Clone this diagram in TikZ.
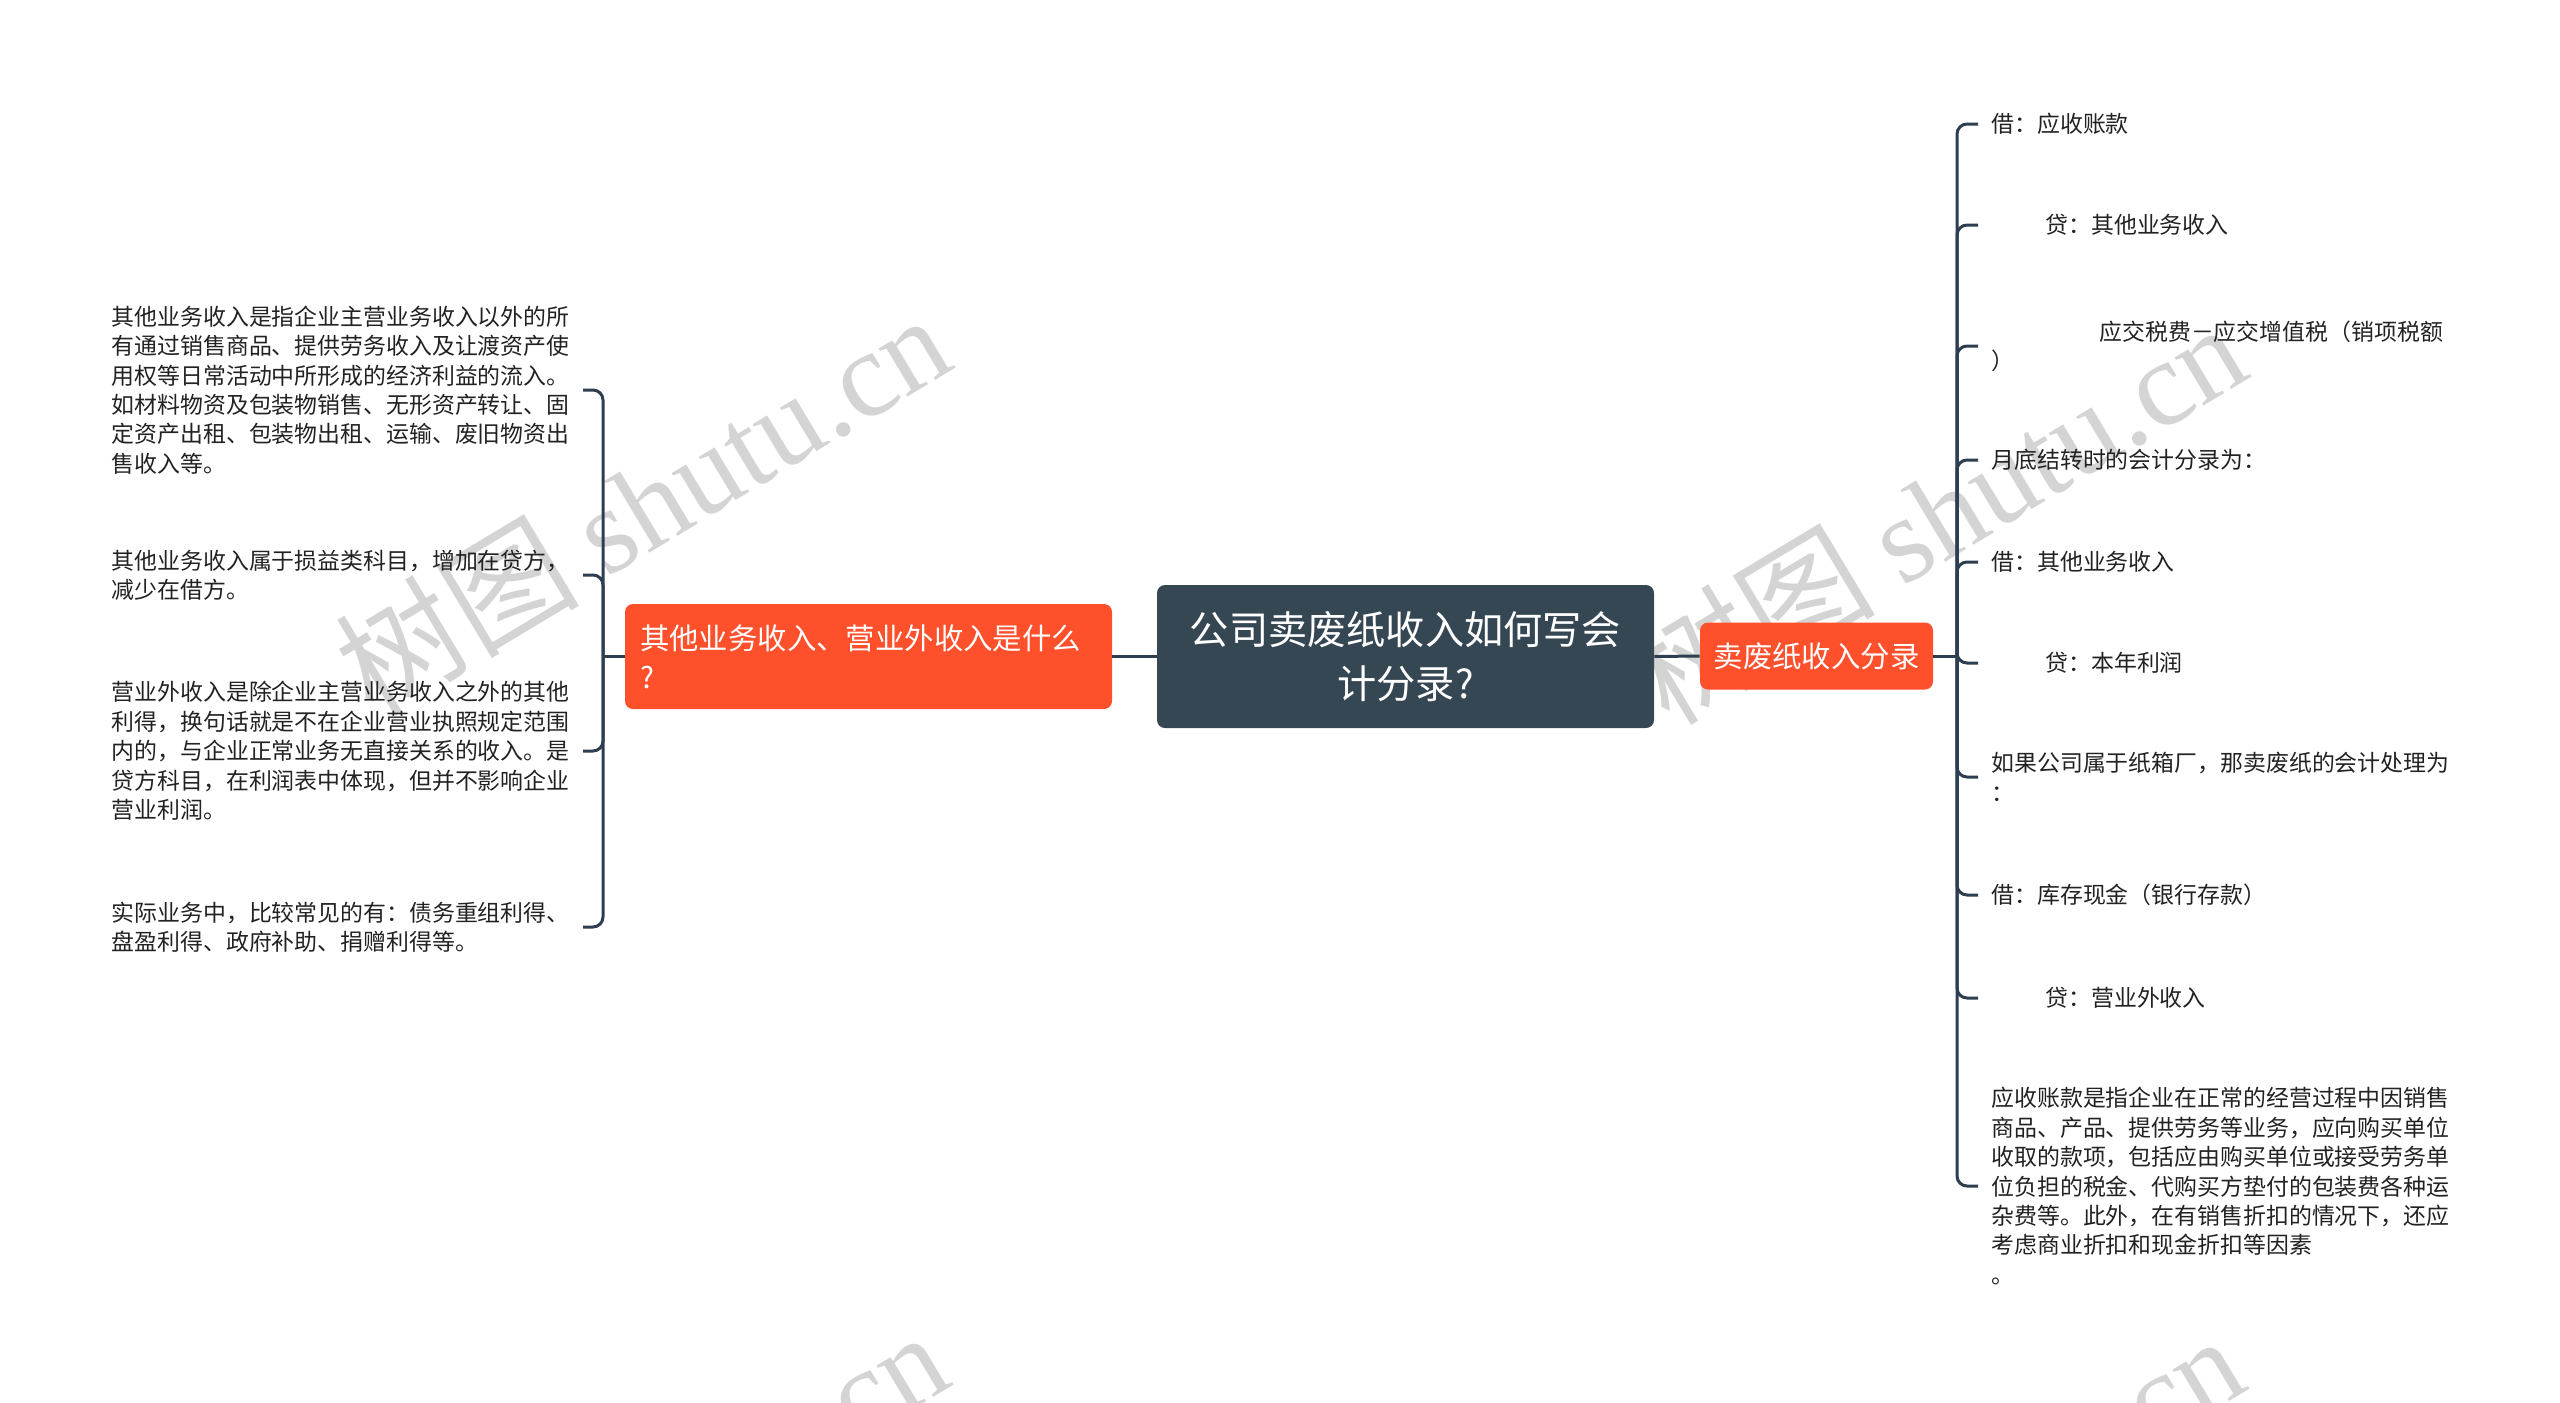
\documentclass[tikz,border=0pt]{standalone}
\usepackage{fontspec}
\setmainfont{Noto Sans CJK SC}
\newfontfamily\wmlatin{Liberation Serif}
\usetikzlibrary{positioning}

\definecolor{rootfill}{RGB}{54,71,84}
\definecolor{topicfill}{RGB}{255,80,44}
\definecolor{linkcol}{RGB}{44,62,80}
\definecolor{leafcol}{RGB}{34,34,34}
\definecolor{wmgray}{RGB}{212,212,212}

\tikzset{
  rootnode/.style={fill=rootfill, rounded corners=4pt, text=white, align=center,
    minimum width=248.5pt, minimum height=71.5pt, inner sep=0pt,
    font=\fontsize{19.6pt}{27pt}\selectfont},
  topicnode/.style={fill=topicfill, rounded corners=4pt, text=white,
    inner sep=0pt, font=\fontsize{14.7pt}{19.6pt}\selectfont},
  leafnode/.style={text=leafcol, align=left, inner xsep=6.5pt, inner ysep=2pt,
    font=\fontsize{11.45pt}{14.7pt}\selectfont},
  link/.style={draw=linkcol, line width=1.5pt},
  hook/.style={link, rounded corners=5pt},
  wmark/.style={text=wmgray, rotate=31, inner sep=0pt,
    font=\fontsize{61pt}{61pt}\selectfont}
}

\begin{document}
\begin{tikzpicture}[x=0.5pt,y=0.5pt,yscale=-1,xscale=1]
\useasboundingbox (0,0) rectangle (2560,1403);

%Watermarks
\begin{scope}
\clip (0,0) rectangle (2560,1403);
\node[wmark] (wm1) at (642,503) {树图 {\wmlatin shutu.cn}};
\node[wmark] (wm2) at (1938,512) {树图 {\wmlatin shutu.cn}};
\node[wmark] (wm3) at (640,1520) {树图 {\wmlatin shutu.cn}};
\node[wmark] (wm4) at (1936,1524) {树图 {\wmlatin shutu.cn}};
\end{scope}

% Root
\node[rootnode] (root) at (1405.5,656.5) {公司卖废纸收入如何写会\\计分录?};
% Topic left
\node[topicnode, align=left, text width=228.5pt, inner xsep=7.5pt, minimum height=52.5pt] (lmain) at (868.5,656.5) {其他业务收入、营业外收入是什么\\?};
% Topic right
\node[topicnode, align=center, minimum width=116.5pt, minimum height=33.5pt] (rmain) at (1816.5,656) {卖废纸收入分录};

%Straight Lines
\draw[link] (root.west) -- (lmain.east);
\draw[link] (root.east) -- (rmain.west);

% Text Node
\node[leafnode, anchor=east] (l1) at (583,390) {其他业务收入是指企业主营业务收入以外的所\\有通过销售商品、提供劳务收入及让渡资产使\\用权等日常活动中所形成的经济利益的流入。\\如材料物资及包装物销售、无形资产转让、固\\定资产出租、包装物出租、运输、废旧物资出\\售收入等。};
% Text Node
\node[leafnode, anchor=east] (l2) at (583,575) {其他业务收入属于损益类科目，增加在贷方，\\减少在借方。};
% Text Node
\node[leafnode, anchor=east] (l3) at (583,751) {营业外收入是除企业主营业务收入之外的其他\\利得，换句话就是不在企业营业执照规定范围\\内的，与企业正常业务无直接关系的收入。是\\贷方科目，在利润表中体现，但并不影响企业\\营业利润。};
% Text Node
\node[leafnode, anchor=east] (l4) at (583,927) {实际业务中，比较常见的有：债务重组利得、\\盘盈利得、政府补助、捐赠利得等。};

% Text Node
\node[leafnode, anchor=west] (r1) at (1978,124) {借：应收账款};
% Text Node
\node[leafnode, anchor=west] (r2) at (1978,225) {\hspace*{27pt}贷：其他业务收入};
% Text Node
\node[leafnode, anchor=west] (r3) at (1978,346) {\hspace*{54pt}应交税费－应交增值税（销项税额\\）};
% Text Node
\node[leafnode, anchor=west] (r4) at (1978,460) {月底结转时的会计分录为：};
% Text Node
\node[leafnode, anchor=west] (r5) at (1978,562) {借：其他业务收入};
% Text Node
\node[leafnode, anchor=west] (r6) at (1978,663) {\hspace*{27pt}贷：本年利润};
% Text Node
\node[leafnode, anchor=west] (r7) at (1978,777) {如果公司属于纸箱厂，那卖废纸的会计处理为\\：};
% Text Node
\node[leafnode, anchor=west] (r8) at (1978,895) {借：库存现金（银行存款）};
% Text Node
\node[leafnode, anchor=west] (r9) at (1978,998) {\hspace*{27pt}贷：营业外收入};
% Text Node
\node[leafnode, anchor=west] (r10) at (1978,1186) {应收账款是指企业在正常的经营过程中因销售\\商品、产品、提供劳务等业务，应向购买单位\\收取的款项，包括应由购买单位或接受劳务单\\位负担的税金、代购买方垫付的包装费各种运\\杂费等。此外，在有销售折扣的情况下，还应\\考虑商业折扣和现金折扣等因素\\。};

%Brackets
\coordinate (ljoin) at (603,656.5);
\coordinate (rjoin) at (1957,656);
\draw[link] (lmain.west) -- (ljoin);
\draw[link] (rmain.east) -- (rjoin);
\foreach \n in {l1,l2,l3,l4}
  \draw[hook] (ljoin) |- (\n.east);
\foreach \n in {r1,r2,r3,r4,r5,r6,r7,r8,r9,r10}
  \draw[hook] (rjoin) |- (\n.west);

\end{tikzpicture}
\end{document}
